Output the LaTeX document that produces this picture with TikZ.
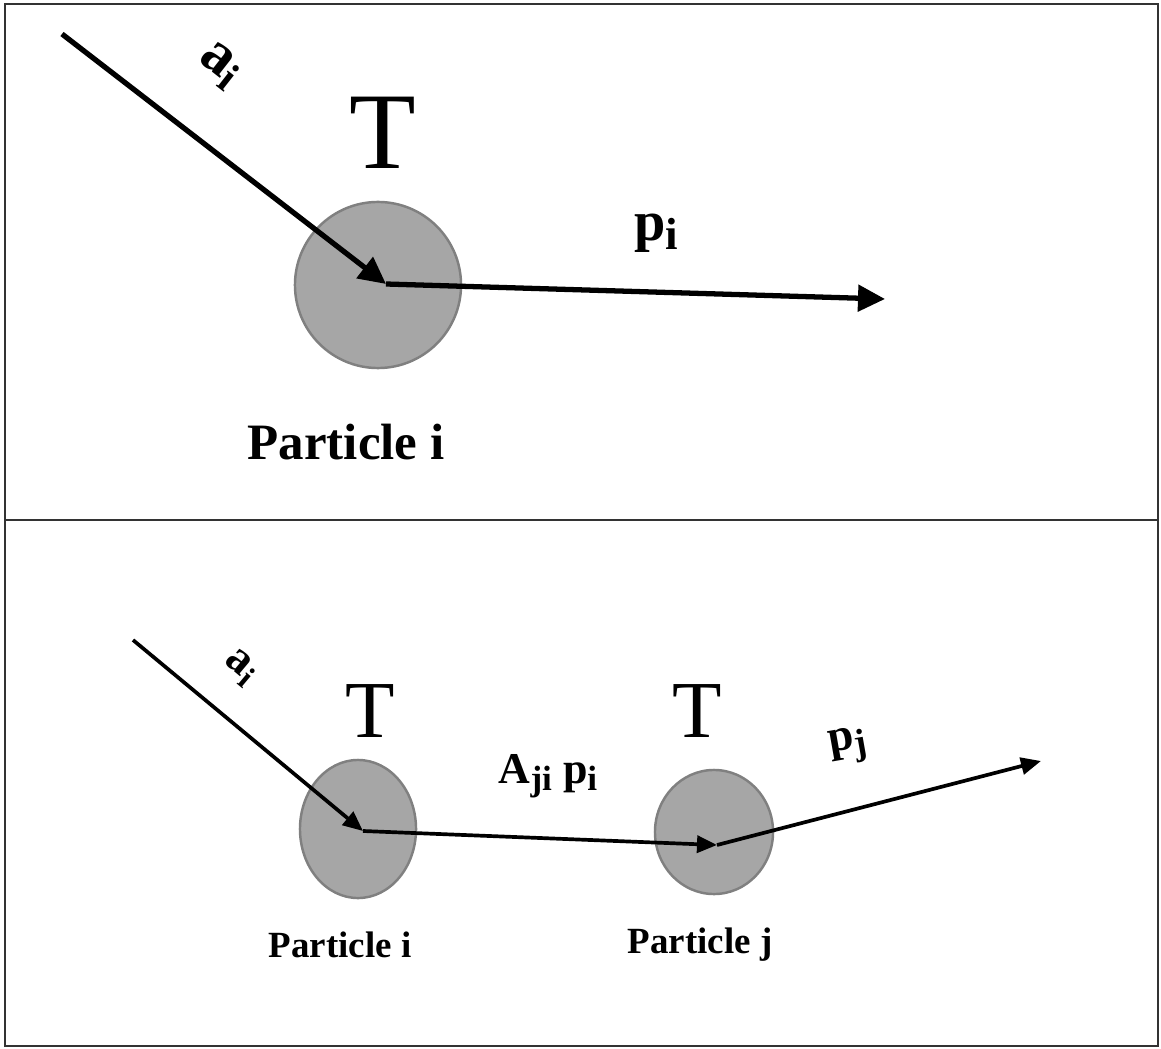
\documentclass[tikz,border=0pt]{standalone}
\usepackage{fontspec}
\setmainfont{Liberation Serif}
\usetikzlibrary{shapes.geometric, arrows.meta, positioning, calc}
\newcommand{\lowsub}[1]{\raisebox{-0.35ex}{\scalebox{0.8}{#1}}}

\begin{document}
\begin{tikzpicture}[
  x=0.01cm, y=-0.01cm,
  part/.style={draw=black!50, fill=black!35, line width=0.7pt, inner sep=0pt},
  bigarr/.style={-{Triangle[length=2.7mm, width=2.6mm]}, line width=1.5pt},
  smallarr/.style={-{Triangle[length=2mm, width=1.7mm]}, line width=1.05pt},
  lbl/.style={inner sep=0pt, font=\bfseries},
  tee/.style={inner sep=0pt}
]
\useasboundingbox (0,0) rectangle (1161,1049);
\draw[black!80, line width=0.8pt] (5,4) rectangle (1158,1046);
\draw[black!80, line width=0.8pt] (5,520) -- (1158,520);

% top panel
\node[part, circle, minimum size=1.66cm] (pi) at (378,285) {};
\coordinate (hub-i) at (386,284);
\coordinate (ai-in) at (62,34);
\coordinate (pi-out) at (885,299);
\draw[bigarr] (hub-i) -- (pi-out);
\draw[bigarr] (ai-in) -- (hub-i);
\node[tee, font=\fontsize{31}{31}\selectfont] (T) at (383,133) {T};
\node[lbl, rotate=-38, font=\fontsize{17}{17}\selectfont\bfseries] (ai) at (220,66) {a\textsubscript{i}};
\node[lbl, font=\fontsize{16}{16}\selectfont\bfseries] (pi-lbl) at (656,233) {p\lowsub{i}};
\node[lbl, font=\fontsize{14.5}{14.5}\selectfont\bfseries] (name-i) at (346,442) {Particle i};

% bottom panel
\node[part, ellipse, minimum width=1.16cm, minimum height=1.38cm] (qi) at (358,829) {};
\node[part, ellipse, minimum width=1.18cm, minimum height=1.24cm] (qj) at (714,832) {};
\coordinate (hub-qi) at (363,831);
\coordinate (hub-qj) at (717,845);
\coordinate (bi-in) at (133,640);
\coordinate (pj-out) at (1041,761);
\draw[smallarr] (hub-qi) -- (hub-qj);
\draw[smallarr] (hub-qj) -- (pj-out);
\draw[smallarr] (bi-in) -- (hub-qi);
\node[tee, font=\fontsize{23}{23}\selectfont] (Ti) at (370,711) {T};
\node[tee, font=\fontsize{23}{23}\selectfont] (Tj) at (697,711) {T};
\node[lbl, rotate=-40, font=\fontsize{13}{13}\selectfont\bfseries] (bi) at (241,668) {a\textsubscript{i}};
\node[lbl, font=\fontsize{12.5}{12.5}\selectfont\bfseries] (aji) at (548,776) {A\lowsub{ji} p\lowsub{i}};
\node[lbl, rotate=10, font=\fontsize{13}{13}\selectfont\bfseries] (pj-lbl) at (848,746) {p\lowsub{j}};
\node[lbl, font=\fontsize{10.5}{10.5}\selectfont\bfseries] (name-qi) at (340,945) {Particle i};
\node[lbl, font=\fontsize{10.5}{10.5}\selectfont\bfseries] (name-qj) at (700,945) {Particle j};
\end{tikzpicture}
\end{document}
